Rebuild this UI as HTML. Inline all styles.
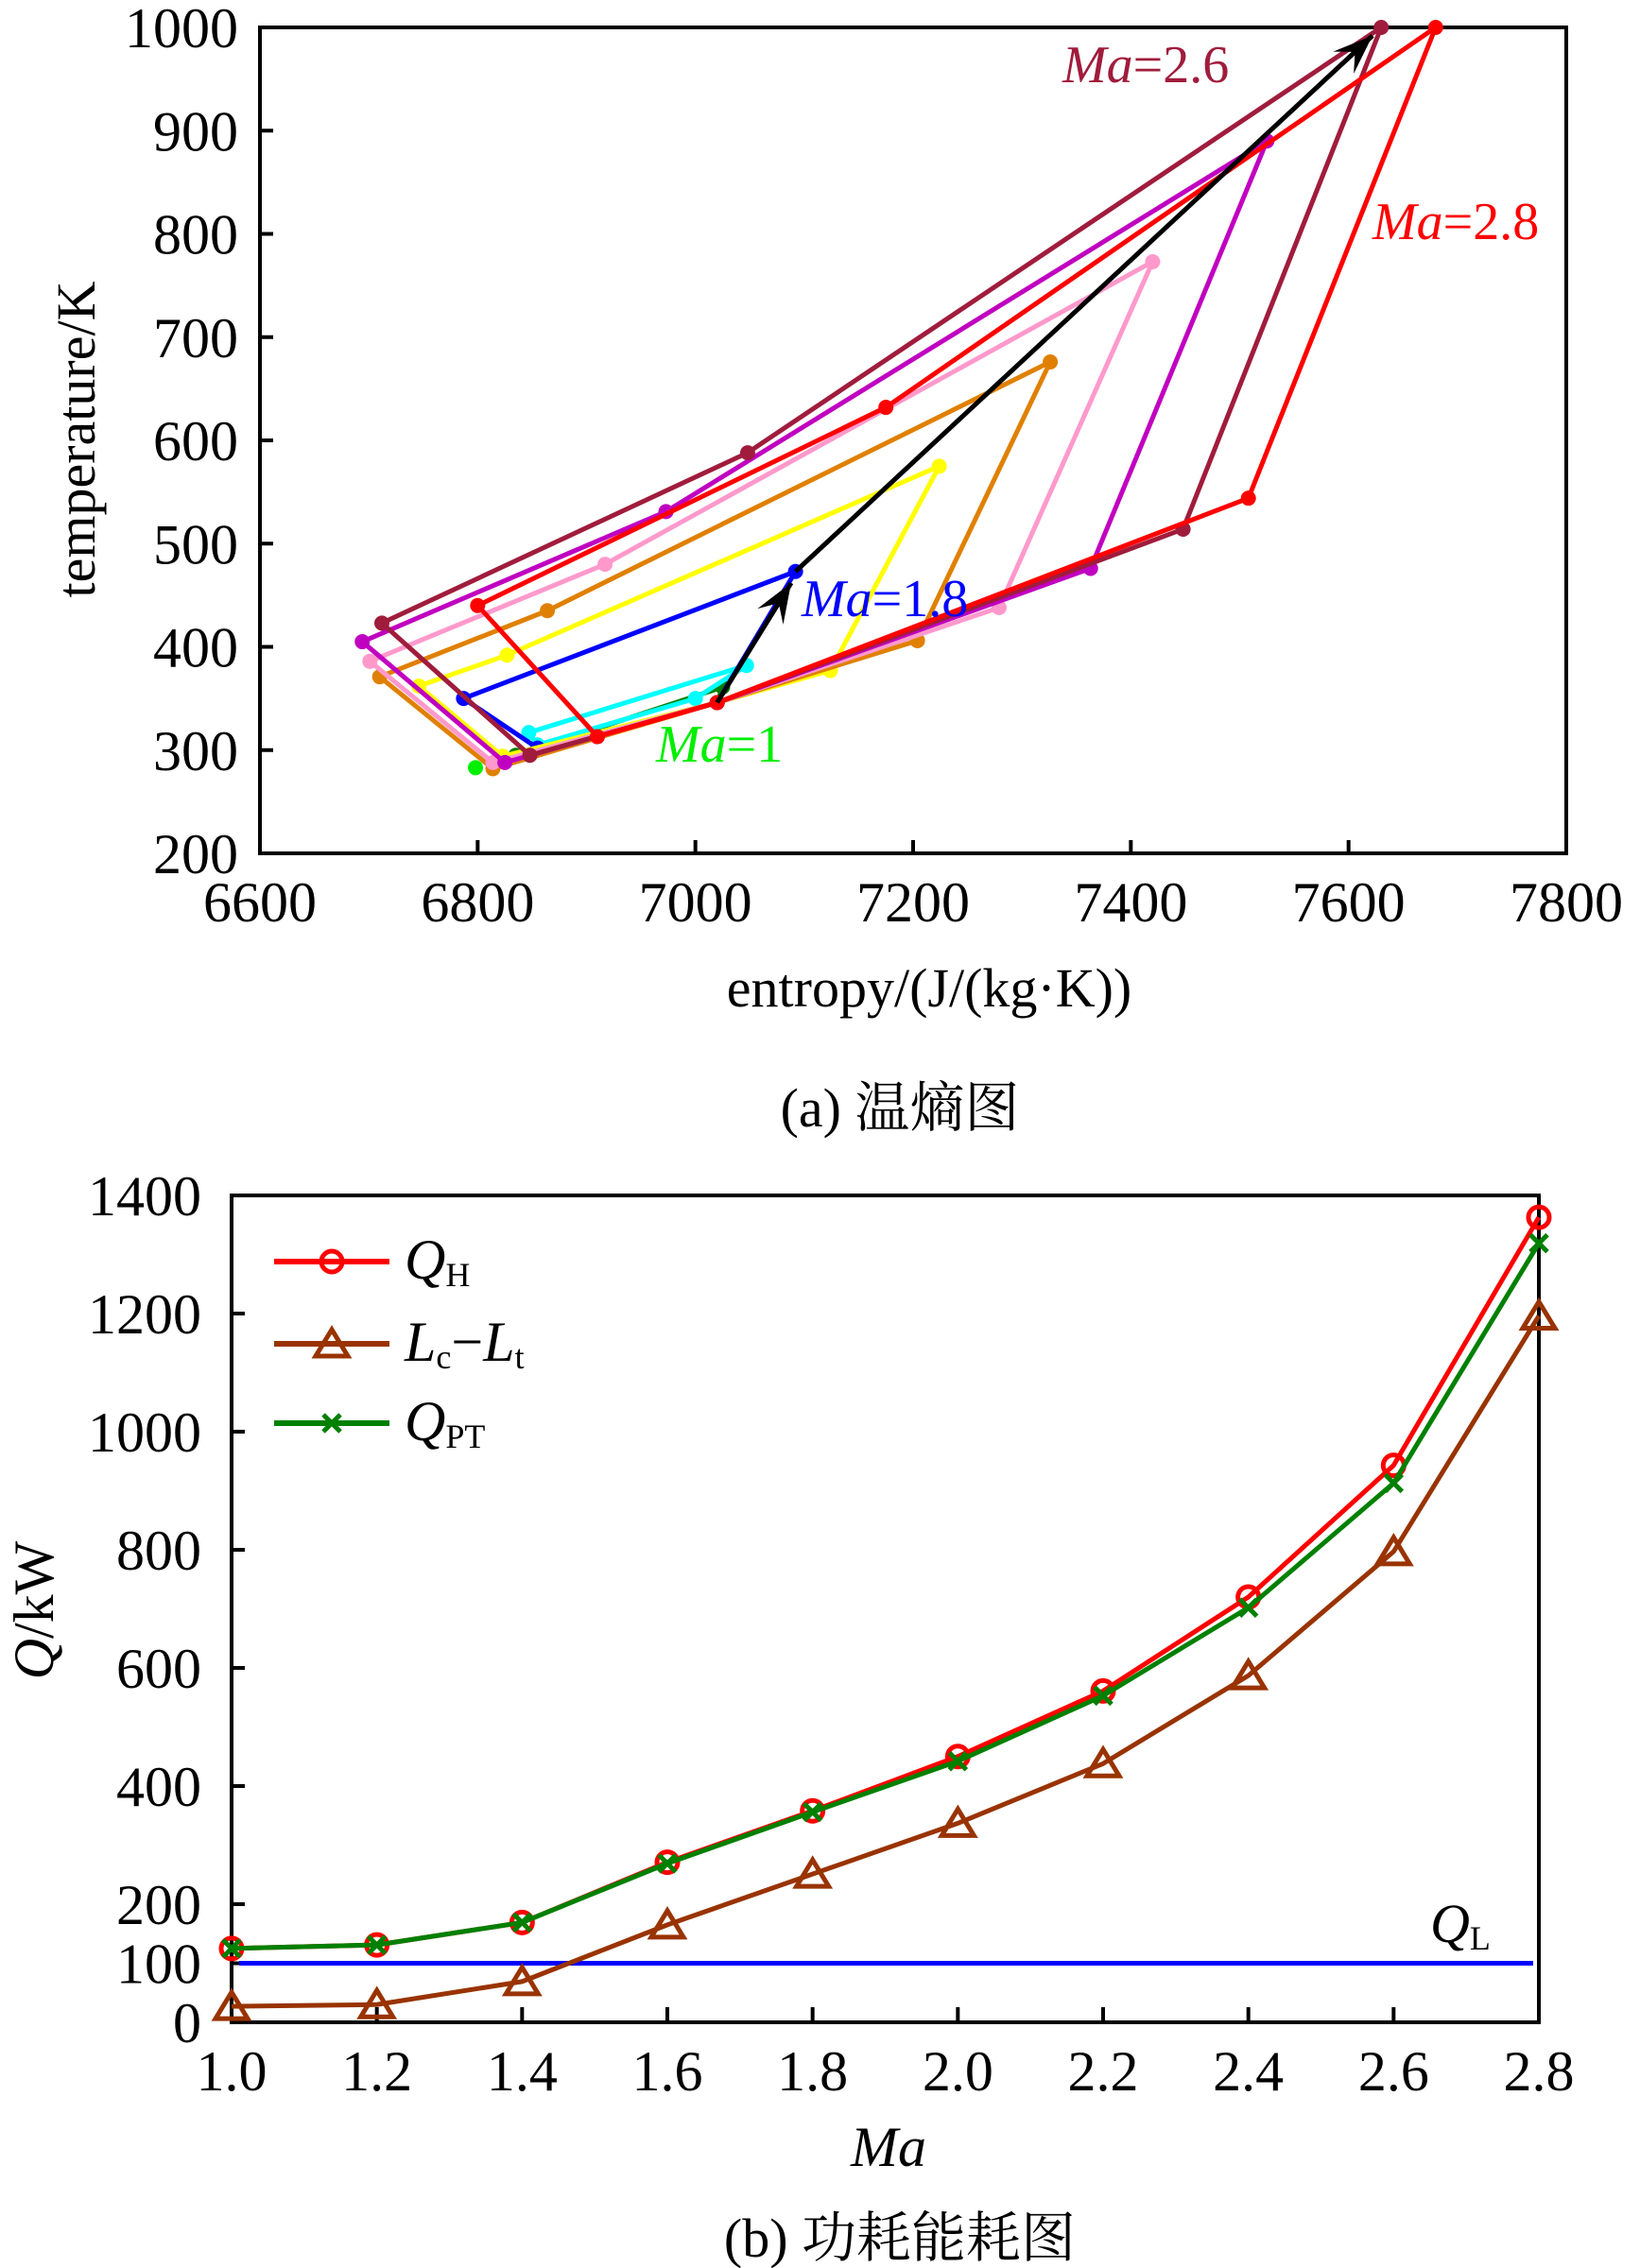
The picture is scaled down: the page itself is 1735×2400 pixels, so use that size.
<!DOCTYPE html>
<html><head><meta charset="utf-8">
<style>
html,body{margin:0;padding:0;background:#fff;}
svg{display:block;}
text{font-family:"Liberation Serif","Noto Serif CJK SC",serif;fill:#000;}
</style></head>
<body>
<svg id="fig" width="1735" height="2400" viewBox="0 0 1735 2400" xmlns="http://www.w3.org/2000/svg">
  <g id="topPlot"></g>
  <g id="botPlot"></g>
</svg>
<script>
// ---------- Chart (a) data ----------
const cycleNames = ["Ma=1.0","Ma=1.2","Ma=1.4","Ma=1.6","Ma=1.8","Ma=2.0","Ma=2.2","Ma=2.4","Ma=2.6","Ma=2.8"];
const cycleColors = ["#00ee00","#007f00","#00ffff","#0000ff","#ffff00","#e08000","#ff99cc","#c000c0","#a01c3c","#ff0000"];
const sMa10 = [6798];                 const tMa10 = [283];
const sMa12 = [6835,7025,7020,6835];  const tMa12 = [295,361,346,295];
const sMa14 = [6855,7000,7047,6847,6855]; const tMa14 = [305,350,382,317,305];
const sMa16 = [6855,7020,7092,6787,6855]; const tMa16 = [302,346,473,350,302];
const sMa18 = [6823,7020,7124,7224,6827,6746,6823]; const tMa18 = [294,346,377,575,392,362,294];
const sMa20 = [6814,7020,7204,7326,6864,6710,6814]; const tMa20 = [282,346,406,676,435,371,282];
const sMa22 = [6814,7020,7279,7420,6917,6701,6814]; const tMa22 = [288,346,438,773,480,386,288];
const sMa24 = [6825,7020,7363,7525,6973,6694,6825]; const tMa24 = [288,346,476,890,531,405,288];
const sMa26 = [6848,7020,7448,7630,7048,6712,6848]; const tMa26 = [295,346,514,1000,588,423,295];
const sMa28 = [6910,7020,7508,7680,7175,6800,6910]; const tMa28 = [313,346,544,1000,632,440,313];
const cycleS = [sMa10,sMa12,sMa14,sMa16,sMa18,sMa20,sMa22,sMa24,sMa26,sMa28];
const cycleT = [tMa10,tMa12,tMa14,tMa16,tMa18,tMa20,tMa22,tMa24,tMa26,tMa28];
const arrowS = [[7020,7088],[7092,7622]];
const arrowT = [[346,462],[473,992]];
const sTicks = [6600,6800,7000,7200,7400,7600,7800];
const tTicks = [200,300,400,500,600,700,800,900,1000];

// ---------- Chart (b) data ----------
const maCats = [1.0,1.2,1.4,1.6,1.8,2.0,2.2,2.4,2.6,2.8];
const qH  = [125,131,169,271,358,450,561,720,943,1363];
const lcLt= [27,30,69,165,251,337,438,587,797,1196];
const qPT = [125,131,169,269,356,442,553,702,913,1319];
const qL  = [100,100];
const maTicks = ["1.0","1.2","1.4","1.6","1.8","2.0","2.2","2.4","2.6","2.8"];
const qTicks = [0,100,200,400,600,800,1000,1200,1400];

const NS="http://www.w3.org/2000/svg";
function mk(parent,tag,attrs){const e=document.createElementNS(NS,tag);for(const k in attrs)e.setAttribute(k,attrs[k]);parent.appendChild(e);return e;}

// ===== Top chart =====
const top_ = document.getElementById('topPlot');
const AL=275, AR=1657, AT=29, AB=903;
const xS = s => AL + (s-6600)/(7800-6600)*(AR-AL);
const yT = t => AB - (t-200)/(1000-200)*(AB-AT);

let fr = mk(top_,'rect',{x:AL,y:AT,width:AR-AL,height:AB-AT,fill:'none',stroke:'#000','stroke-width':4});


sTicks.forEach(v=>{
  const x=xS(v);
  const l=mk(top_,'line',{x1:x,y1:AB,x2:x,y2:AB-14,stroke:'#000','stroke-width':4});
  
  
  const t=mk(top_,'text',{x:x,y:975,'font-size':60,'text-anchor':'middle'});
  t.textContent=v;
  
  
});
tTicks.forEach(v=>{
  const y=yT(v);
  const l=mk(top_,'line',{x1:AL,y1:y,x2:AL+14,y2:y,stroke:'#000','stroke-width':4});
  
  
  const t=mk(top_,'text',{x:252,y:y+21,'font-size':60,'text-anchor':'end'});
  t.textContent=v;
  
  
});
let yt=mk(top_,'text',{x:0,y:0,'font-size':58,'text-anchor':'middle',transform:'translate(100,465) rotate(-90)'});
yt.textContent='temperature/K';


let xt=mk(top_,'text',{x:983,y:1065,'font-size':58,'text-anchor':'middle'});
xt.textContent='entropy/(J/(kg·K))';


let ca=mk(top_,'text',{x:952,y:1192,'font-size':58,'text-anchor':'middle'});
ca.textContent='(a) 温熵图';



cycleS.forEach((sArr,i)=>{
  const tArr=cycleT[i];
  const g=mk(top_,'g',{});
  
  
  if(sArr.length>1){
    const pts=sArr.map((s,j)=>xS(s)+','+yT(tArr[j])).join(' ');
    const pl=mk(g,'polyline',{points:pts,fill:'none',stroke:cycleColors[i],'stroke-width':5,'stroke-linejoin':'round'});
    
    
  }
  const n = sArr.length>1 ? sArr.length-1 : 1;
  for(let j=0;j<n;j++){
    const c=mk(g,'circle',{cx:xS(sArr[j]),cy:yT(tArr[j]),r:8,fill:cycleColors[i]});
    
    
  }
});
arrowS.forEach((sa,i)=>{
  const ta=arrowT[i];
  const x1=xS(sa[0]),y1=yT(ta[0]),x2=xS(sa[1]),y2=yT(ta[1]);
  const ln=mk(top_,'line',{x1:x1,y1:y1,x2:x2,y2:y2,stroke:'#000','stroke-width':5});
  
  
  const ang=Math.atan2(y2-y1,x2-x1), L=42, W=16;
  const bx=x2-L*Math.cos(ang), by=y2-L*Math.sin(ang);
  const mx=x2-L*0.6*Math.cos(ang), my=y2-L*0.6*Math.sin(ang);
  const px=-Math.sin(ang)*W, py=Math.cos(ang)*W;
  const hd=mk(top_,'polygon',{points:`${x2},${y2} ${bx+px},${by+py} ${mx},${my} ${bx-px},${by-py}`,fill:'#000'});
  
  
});
function maLabel(parent,x,y,num,color,name){
  const t=mk(parent,'text',{x:x,y:y,'font-size':56,fill:color});
  
  
  const a=mk(t,'tspan',{'font-style':'italic',fill:color}); a.textContent='Ma';
  const b=mk(t,'tspan',{fill:color}); b.textContent='='+num;
}
maLabel(top_,1124,87,'2.6','#a01c3c','label-ma-2-6');
maLabel(top_,1452,253,'2.8','#ff0000','label-ma-2-8');
maLabel(top_,848,652,'1.8','#0000ff','label-ma-1-8');
maLabel(top_,694,806,'1','#00ee00','label-ma-1');

// ===== Bottom chart =====
const bot = document.getElementById('botPlot');
const BL=245, BR=1628, BT=1265, BB=2140;
const xM = m => BL + (m-1.0)/(2.8-1.0)*(BR-BL);
const yQ = q => BB - q/1400*(BB-BT);

let fr2=mk(bot,'rect',{x:BL,y:BT,width:BR-BL,height:BB-BT,fill:'none',stroke:'#000','stroke-width':4});


maTicks.forEach(v=>{
  const x=xM(parseFloat(v));
  const l=mk(bot,'line',{x1:x,y1:BB,x2:x,y2:BB-16,stroke:'#000','stroke-width':4});
  
  
  const t=mk(bot,'text',{x:x,y:2212,'font-size':60,'text-anchor':'middle'});
  t.textContent=v;
  
  
});
qTicks.forEach(v=>{
  const y=yQ(v);
  const l=mk(bot,'line',{x1:BL,y1:y,x2:BL+14,y2:y,stroke:'#000','stroke-width':4});
  
  
  const t=mk(bot,'text',{x:213,y:y+21,'font-size':60,'text-anchor':'end'});
  t.textContent=v;
  
  
});
let yt2=mk(bot,'text',{x:0,y:0,'font-size':60,'text-anchor':'middle',transform:'translate(56,1704) rotate(-90)'});


let q1=mk(yt2,'tspan',{'font-style':'italic'}); q1.textContent='Q';
let q2=mk(yt2,'tspan',{}); q2.textContent='/kW';
let xt2=mk(bot,'text',{x:940,y:2292,'font-size':60,'text-anchor':'middle','font-style':'italic'});
xt2.textContent='Ma';


let cb=mk(bot,'text',{x:952,y:2388,'font-size':58,'text-anchor':'middle'});
cb.textContent='(b) 功耗能耗图';



// QL line
let ql=mk(bot,'line',{x1:xM(1.0)+8,y1:yQ(qL[0]),x2:xM(2.8)-6,y2:yQ(qL[1]),stroke:'#0000ff','stroke-width':5});


let qlt=mk(bot,'text',{x:1513,y:2055,'font-size':58});


let qa=mk(qlt,'tspan',{'font-style':'italic'}); qa.textContent='Q';
let qb=mk(qlt,'tspan',{'font-size':36,dy:8}); qb.textContent='L';

function marker(parent,type,x,y,color){
  let e;
  if(type==='o') e=mk(parent,'circle',{cx:x,cy:y,r:11,fill:'none',stroke:color,'stroke-width':5});
  else if(type==='^') e=mk(parent,'polygon',{points:`${x},${y-15} ${x-17},${y+13} ${x+17},${y+13}`,fill:'none',stroke:color,'stroke-width':5});
  else e=mk(parent,'path',{d:`M${x-9},${y-9}L${x+9},${y+9}M${x-9},${y+9}L${x+9},${y-9}`,stroke:color,'stroke-width':5});
  return e;
}
function series(vals,color,type,name){
  const g=mk(bot,'g',{});
  
  
  const pl=mk(g,'polyline',{points:vals.map((v,i)=>xM(maCats[i])+','+yQ(v)).join(' '),fill:'none',stroke:color,'stroke-width':5,'stroke-linejoin':'round'});
  
  
  vals.forEach((v,i)=>{
    const m=marker(g,type,xM(maCats[i]),yQ(v),color);
    
    
  });
}
series(lcLt,'#993300','^','lc-lt-series');
series(qH,'#ff0000','o','qh-series');
series(qPT,'#008000','x','qpt-series');

// legend
const leg=mk(bot,'g',{});


const legItems=[['#ff0000','o',1335,'Q','H'],['#993300','^',1422,'L','c'],['#008000','x',1506,'Q','PT']];
legItems.forEach(it=>{
  const g=mk(leg,'g',{});
  
  
  mk(g,'line',{x1:290,y1:it[2],x2:412,y2:it[2],stroke:it[0],'stroke-width':6});
  marker(g,it[1],351,it[2],it[0]);
  const t=mk(g,'text',{x:428,y:it[2]+18,'font-size':60});
  const a=mk(t,'tspan',{'font-style':'italic'}); a.textContent=it[3];
  const b=mk(t,'tspan',{'font-size':36,dy:8}); b.textContent=it[4];
  if(it[3]==='L'){
    const c=mk(t,'tspan',{dy:-8}); c.textContent='\u2212';
    const d=mk(t,'tspan',{'font-style':'italic'}); d.textContent='L';
    const e=mk(t,'tspan',{'font-size':36,dy:8}); e.textContent='t';
  }
});
</script>
</body></html>
